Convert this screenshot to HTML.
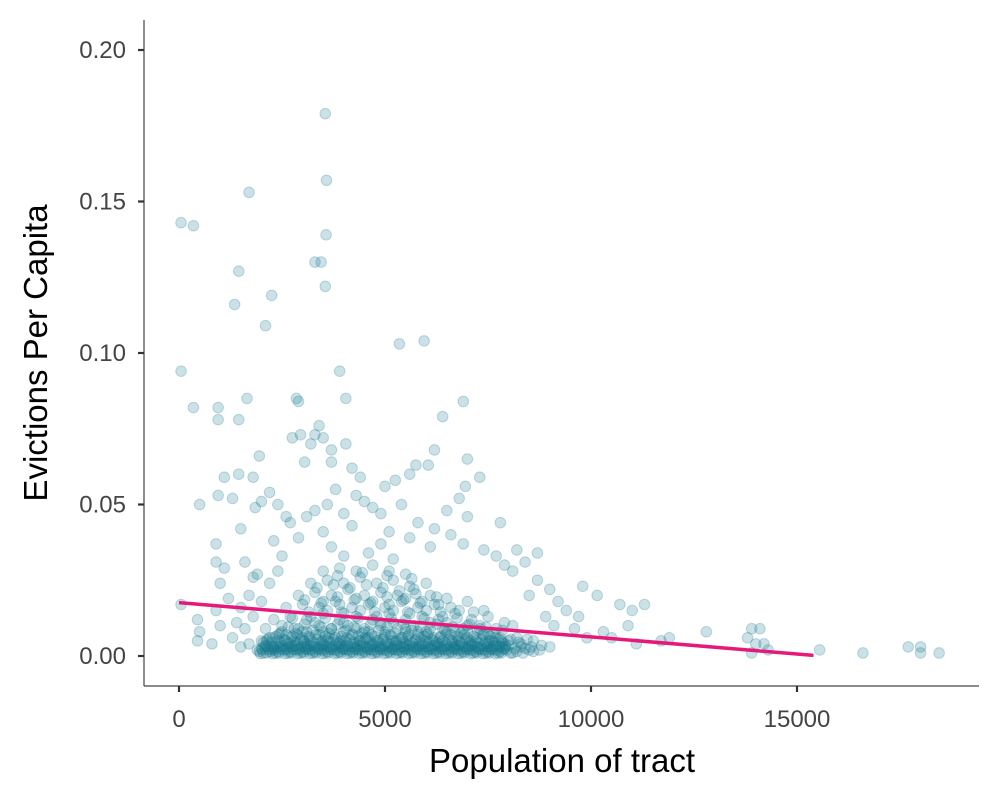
<!DOCTYPE html>
<html><head><meta charset="utf-8"><style>
html,body{margin:0;padding:0;background:#fff;}
svg{display:block;font-family:"Liberation Sans",sans-serif;}
</style></head><body>
<svg id="chart" width="1000" height="800" viewBox="0 0 1000 800">
<g id="points"></g>
<g id="fit"></g>
<g id="axes"></g>
</svg>
<script>
const xTicks = [0, 5000, 10000, 15000];
const xTickLabels = ["0", "5000", "10000", "15000"];
const yTicks = [0, 0.05, 0.10, 0.15, 0.20];
const yTickLabels = ["0.00", "0.05", "0.10", "0.15", "0.20"];
const fitX = [0, 15400];
const fitY = [0.0176, 0.0002];
const outlierPoints = [
[3550,0.179],[3580,0.157],[1700,0.153],[50,0.143],[350,0.142],[3570,0.139],[3300,0.130],[3450,0.130],[1450,0.127],[3550,0.122],[2250,0.119],[1350,0.116],[2100,0.109],[5950,0.104],[5350,0.103],[50,0.094],[3900,0.094],[950,0.082],[350,0.082],[1650,0.085],[4050,0.085],[2850,0.085],[2900,0.084],[6900,0.084],[950,0.078],[1450,0.078],[6400,0.079],[3400,0.076],[3300,0.073],[3200,0.070],[3500,0.072],[2750,0.072],[2950,0.073],[4050,0.070],[1950,0.066],[3700,0.068],[6200,0.068],[3700,0.064],[3050,0.064],[7000,0.065],[5750,0.063],[6050,0.063],[4200,0.062],[1450,0.060],[1800,0.059],[1100,0.059],[7300,0.059],[5600,0.060],[4400,0.059],[500,0.050],[950,0.053],[1300,0.052],[2200,0.054],[1850,0.049],[6950,0.056],[6800,0.052],[3800,0.055],[4300,0.053],[5250,0.058],[5000,0.056],[7000,0.046],[6500,0.048],[7800,0.044],[900,0.037],[1500,0.042],[2600,0.046],[3300,0.048],[4700,0.049],[8200,0.035],[8700,0.034],[8400,0.031],[7700,0.033],[8700,0.025],[9000,0.022],[9800,0.023],[9400,0.015],[9700,0.013],[10150,0.020],[10700,0.017],[11000,0.015],[11300,0.017],[10300,0.008],[11700,0.005],[11900,0.006],[12800,0.008],[13800,0.006],[13900,0.009],[14100,0.009],[14000,0.004],[14200,0.004],[13900,0.001],[14300,0.002],[15550,0.002],[16600,0.001],[17700,0.003],[18000,0.003],[18000,0.001],[18450,0.001],[50,0.017],[450,0.012],[500,0.008],[450,0.005],[800,0.004],[900,0.015],[1000,0.024],[900,0.031],[1200,0.019],[1100,0.029],[1000,0.010],
[2000,0.051],[2400,0.050],[2700,0.044],[3100,0.046],[3600,0.050],[4000,0.047],[4500,0.051],[4900,0.047],[5400,0.050],[5800,0.044],[6200,0.042],[6600,0.040],[2300,0.038],[2900,0.039],[3500,0.041],[4200,0.043],[5100,0.041],[5600,0.039],[6100,0.036],[6900,0.037],[7400,0.035],[7900,0.030],[1600,0.031],[1900,0.027],[2500,0.033],[8100,0.028],[8500,0.020],[9200,0.018],[9600,0.009],[9900,0.006],[10500,0.006],[11100,0.004],[10900,0.010],[9100,0.010],[8900,0.013]
];
const clusterPoints = [
[1900,0.002],[2050,0.001],[2150,0.003],[2250,0.002],[2350,0.001],[2450,0.003],[2550,0.002],[2650,0.001],[2750,0.003],[2850,0.002],[2950,0.001],[3050,0.003],[3150,0.002],[3250,0.001],[3350,0.003],[3450,0.002],[3550,0.001],[3650,0.003],[3750,0.002],[3850,0.001],[3950,0.003],[4050,0.002],[4150,0.001],[4250,0.003],[4350,0.002],[4450,0.001],[4550,0.003],[4650,0.002],[4750,0.001],[4850,0.003],[4950,0.002],[5050,0.001],[5150,0.003],[5250,0.002],[5350,0.001],[5450,0.003],[5550,0.002],[5650,0.001],[5750,0.003],[5850,0.002],[5950,0.001],[6050,0.003],[6150,0.002],[6250,0.001],[6350,0.003],[6450,0.002],[6550,0.001],[6650,0.003],[6750,0.002],[6850,0.001],[6950,0.003],[7050,0.002],[7150,0.001],[7250,0.003],[7350,0.002],[7450,0.001],[7550,0.003],[7650,0.002],[7750,0.001],[7850,0.003],[7950,0.002],[8100,0.001],[8300,0.003],[8500,0.002],[8750,0.002],[9000,0.003],
[2000,0.005],[2200,0.006],[2400,0.005],[2600,0.007],[2800,0.005],[3000,0.006],[3200,0.005],[3400,0.007],[3600,0.005],[3800,0.006],[4000,0.005],[4200,0.007],[4400,0.005],[4600,0.006],[4800,0.005],[5000,0.007],[5200,0.005],[5400,0.006],[5600,0.005],[5800,0.007],[6000,0.005],[6200,0.006],[6400,0.005],[6600,0.007],[6800,0.005],[7000,0.006],[7200,0.005],[7400,0.007],[7600,0.005],[7800,0.006],[8000,0.005],[8200,0.006],[8600,0.005],
[2100,0.009],[2500,0.010],[2900,0.009],[3300,0.011],[3700,0.009],[4100,0.010],[4500,0.009],[4900,0.011],[5300,0.009],[5700,0.010],[6100,0.009],[6500,0.011],[6900,0.009],[7300,0.010],[7700,0.009],[8100,0.010],[2300,0.012],[2700,0.013],[3100,0.012],[3500,0.014],[3900,0.012],[4300,0.013],[4700,0.012],[5100,0.014],[5500,0.012],[5900,0.013],[6300,0.012],[6700,0.014],[7100,0.012],[7500,0.013],[7900,0.011],
[2600,0.016],[3000,0.017],[3400,0.016],[3800,0.018],[4200,0.016],[4600,0.017],[5000,0.016],[5400,0.018],[5800,0.016],[6200,0.017],[6600,0.016],[7000,0.018],[7400,0.015],[2900,0.020],[3300,0.021],[3700,0.020],[4100,0.022],[4500,0.020],[4900,0.021],[5300,0.020],[5700,0.022],[6100,0.020],[6500,0.019],[3200,0.024],[3600,0.025],[4000,0.024],[4400,0.026],[4800,0.024],[5200,0.025],[5600,0.023],[6000,0.024],[3500,0.028],[3900,0.029],[4300,0.028],[4700,0.030],[5100,0.028],[5500,0.027],[4000,0.033],[4600,0.034],[5200,0.032],[3700,0.036],[4900,0.037],
[2300,0.003],[2700,0.004],[3100,0.004],[3500,0.004],[3900,0.004],[4300,0.004],[4700,0.004],[5100,0.004],[5500,0.004],[5900,0.004],[6300,0.004],[6700,0.004],[7100,0.004],[7500,0.004],[7900,0.004],[8300,0.004],[2500,0.008],[3000,0.008],[3500,0.008],[4000,0.008],[4500,0.008],[5000,0.008],[5500,0.008],[6000,0.008],[6500,0.008],[7000,0.008],[7500,0.007],[1500,0.003],[1700,0.004],[1300,0.006],[1600,0.009],[1400,0.011],[1800,0.013],[1500,0.016],[1700,0.020],[2000,0.018],[2200,0.024],[1800,0.026],[2400,0.028]
];
const densePoints = [
[1950,0.0015],[2000,0.0025],[2100,0.0035],[2200,0.0015],[2300,0.0025],[2400,0.0015],[2500,0.0035],[2600,0.0025],[2700,0.0015],[2800,0.0035],[2900,0.0025],[3000,0.0015],[3100,0.0025],[3200,0.0035],[3300,0.0015],[3400,0.0025],[3500,0.0035],[3600,0.0015],[3700,0.0025],[3800,0.0035],[3900,0.0015],[4000,0.0025],[4100,0.0035],[4200,0.0015],[4300,0.0025],[4400,0.0035],[4500,0.0015],[4600,0.0025],[4700,0.0035],[4800,0.0015],[4900,0.0025],[5000,0.0035],[5100,0.0015],[5200,0.0025],[5300,0.0035],[5400,0.0015],[5500,0.0025],[5600,0.0035],[5700,0.0015],[5800,0.0025],[5900,0.0035],[6000,0.0015],[6100,0.0025],[6200,0.0035],[6300,0.0015],[6400,0.0025],[6500,0.0035],[6600,0.0015],[6700,0.0025],[6800,0.0035],[6900,0.0015],[7000,0.0025],[7100,0.0035],[7200,0.0015],[7300,0.0025],[7400,0.0035],[7500,0.0015],[7600,0.0025],[7700,0.0035],[7800,0.0015],[7900,0.0025],[8000,0.0035],[8200,0.0015],[8400,0.0025],[8600,0.0015],[8800,0.0035],
[2050,0.0045],[2150,0.0055],[2250,0.0045],[2350,0.0065],[2450,0.0045],[2550,0.0055],[2650,0.0045],[2750,0.0065],[2850,0.0045],[2950,0.0055],[3050,0.0045],[3150,0.0065],[3250,0.0045],[3350,0.0055],[3450,0.0045],[3550,0.0065],[3650,0.0045],[3750,0.0055],[3850,0.0045],[3950,0.0065],[4050,0.0045],[4150,0.0055],[4250,0.0045],[4350,0.0065],[4450,0.0045],[4550,0.0055],[4650,0.0045],[4750,0.0065],[4850,0.0045],[4950,0.0055],[5050,0.0045],[5150,0.0065],[5250,0.0045],[5350,0.0055],[5450,0.0045],[5550,0.0065],[5650,0.0045],[5750,0.0055],[5850,0.0045],[5950,0.0065],[6050,0.0045],[6150,0.0055],[6250,0.0045],[6350,0.0065],[6450,0.0045],[6550,0.0055],[6650,0.0045],[6750,0.0065],[6850,0.0045],[6950,0.0055],[7050,0.0045],[7150,0.0065],[7250,0.0045],[7350,0.0055],[7450,0.0045],[7550,0.0065],[7650,0.0045],[7750,0.0055],[7850,0.0045],[8050,0.0055],[8250,0.0045],[8450,0.0055],
[2450,0.0075],[2650,0.0095],[2850,0.0075],[3050,0.0105],[3250,0.0085],[3450,0.0095],[3650,0.0075],[3850,0.0105],[4050,0.0085],[4250,0.0095],[4450,0.0075],[4650,0.0105],[4850,0.0085],[5050,0.0095],[5250,0.0075],[5450,0.0105],[5650,0.0085],[5850,0.0095],[6050,0.0075],[6250,0.0105],[6450,0.0085],[6650,0.0095],[6850,0.0075],[7050,0.0105],[7250,0.0085],[7450,0.0095],[7650,0.0075],[7850,0.0085],
[2750,0.0125],[3150,0.0145],[3550,0.0125],[3950,0.0145],[4350,0.0125],[4750,0.0145],[5150,0.0125],[5550,0.0145],[5950,0.0125],[6350,0.0145],[6750,0.0125],[7150,0.0145],[3050,0.0185],[3450,0.0175],[3850,0.0195],[4250,0.0185],[4650,0.0175],[5050,0.0195],[5450,0.0185],[5850,0.0175],[6250,0.0195],[3350,0.0225],[3750,0.0235],[4150,0.0225],[4550,0.0235],[4950,0.0225],[5350,0.0215],[5750,0.0205],[3850,0.0265],[4450,0.0275],[5050,0.0265],[5650,0.0255]
];
const bandPoints = [
[1975,0.0008],[2025,0.0020],[2075,0.0030],[2125,0.0010],[2175,0.0022],[2225,0.0032],[2275,0.0008],[2325,0.0020],[2375,0.0030],[2425,0.0010],[2475,0.0022],[2525,0.0032],[2575,0.0008],[2625,0.0020],[2675,0.0030],[2725,0.0010],[2775,0.0022],[2825,0.0032],[2875,0.0008],[2925,0.0020],[2975,0.0030],[3025,0.0010],[3075,0.0022],[3125,0.0032],[3175,0.0008],[3225,0.0020],[3275,0.0030],[3325,0.0010],[3375,0.0022],[3425,0.0032],[3475,0.0008],[3525,0.0020],[3575,0.0030],[3625,0.0010],[3675,0.0022],[3725,0.0032],[3775,0.0008],[3825,0.0020],[3875,0.0030],[3925,0.0010],[3975,0.0022],[4025,0.0032],[4075,0.0008],[4125,0.0020],[4175,0.0030],[4225,0.0010],[4275,0.0022],[4325,0.0032],[4375,0.0008],[4425,0.0020],[4475,0.0030],[4525,0.0010],[4575,0.0022],[4625,0.0032],[4675,0.0008],[4725,0.0020],[4775,0.0030],[4825,0.0010],[4875,0.0022],[4925,0.0032],[4975,0.0008],[5025,0.0020],[5075,0.0030],[5125,0.0010],[5175,0.0022],[5225,0.0032],[5275,0.0008],[5325,0.0020],[5375,0.0030],[5425,0.0010],[5475,0.0022],[5525,0.0032],[5575,0.0008],[5625,0.0020],[5675,0.0030],[5725,0.0010],[5775,0.0022],[5825,0.0032],[5875,0.0008],[5925,0.0020],[5975,0.0030],[6025,0.0010],[6075,0.0022],[6125,0.0032],[6175,0.0008],[6225,0.0020],[6275,0.0030],[6325,0.0010],[6375,0.0022],[6425,0.0032],[6475,0.0008],[6525,0.0020],[6575,0.0030],[6625,0.0010],[6675,0.0022],[6725,0.0032],[6775,0.0008],[6825,0.0020],[6875,0.0030],[6925,0.0010],[6975,0.0022],[7025,0.0032],[7075,0.0008],[7125,0.0020],[7175,0.0030],[7225,0.0010],[7275,0.0022],[7325,0.0032],[7375,0.0008],[7425,0.0020],[7475,0.0030],[7525,0.0010],[7575,0.0022],[7625,0.0032],[7675,0.0008],[7725,0.0020],[7775,0.0030],[7825,0.0010],[7875,0.0022],[7925,0.0032],[8050,0.0010],[8150,0.0025],[8350,0.0010],[8550,0.0030],
[2125,0.0050],[2275,0.0060],[2425,0.0070],[2575,0.0050],[2725,0.0060],[2875,0.0070],[3025,0.0050],[3175,0.0060],[3325,0.0070],[3475,0.0050],[3625,0.0060],[3775,0.0070],[3925,0.0050],[4075,0.0060],[4225,0.0070],[4375,0.0050],[4525,0.0060],[4675,0.0070],[4825,0.0050],[4975,0.0060],[5125,0.0070],[5275,0.0050],[5425,0.0060],[5575,0.0070],[5725,0.0050],[5875,0.0060],[6025,0.0070],[6175,0.0050],[6325,0.0060],[6475,0.0070],[6625,0.0050],[6775,0.0060],[6925,0.0070],[7075,0.0050],[7225,0.0060],[7375,0.0070],[7525,0.0050],[7675,0.0060],[7825,0.0050],
[2800,0.0090],[3100,0.0080],[3400,0.0100],[3700,0.0090],[4000,0.0110],[4300,0.0090],[4600,0.0080],[4900,0.0100],[5200,0.0110],[5500,0.0090],[5800,0.0080],[6100,0.0110],[6400,0.0090],[6700,0.0080],[7000,0.0100],[7300,0.0090],[3200,0.0130],[3600,0.0150],[4000,0.0140],[4400,0.0150],[4800,0.0130],[5200,0.0150],[5600,0.0140],[6000,0.0150],[6400,0.0130],[6800,0.0150],[3500,0.0180],[3900,0.0170],[4300,0.0190],[4700,0.0180],[5100,0.0170],[5500,0.0190],[5900,0.0180],[6300,0.0170]
];
const NS = "http://www.w3.org/2000/svg";
const L = 144, R = 979, T = 20, B = 686;
function xs(v){ return 179 + v * (618 / 15000); }
function ys(v){ return 656 - v * (606 / 0.20); }
function mk(tag, attrs, parent){ const e = document.createElementNS(NS, tag); for (const k in attrs) e.setAttribute(k, attrs[k]); parent.appendChild(e); return e; }
const pg = document.getElementById('points');
outlierPoints.concat(clusterPoints, densePoints, bandPoints).forEach(function(p){
  const c = mk('circle', {cx: xs(p[0]), cy: ys(p[1]), r: 5.3, fill: 'rgba(20,118,140,0.22)', stroke: 'rgba(20,118,140,0.25)', 'stroke-width': 1}, pg);
  
  
});
const fg = document.getElementById('fit');
const ln = mk('line', {x1: xs(fitX[0]), y1: ys(fitY[0]), x2: xs(fitX[1]), y2: ys(fitY[1]), stroke: '#e6197a', 'stroke-width': 3.5}, fg);


const ax = document.getElementById('axes');
const yl = mk('line', {x1: L, y1: T, x2: L, y2: B, stroke: '#444', 'stroke-width': 1.2}, ax);


const xl = mk('line', {x1: L, y1: B, x2: R, y2: B, stroke: '#444', 'stroke-width': 1.2}, ax);


xTicks.forEach(function(v, i){
  const t = mk('line', {x1: xs(v), y1: B, x2: xs(v), y2: B + 6, stroke: '#333', 'stroke-width': 2.2}, ax);
  
  
  const tx = mk('text', {x: xs(v), y: 727, 'text-anchor': 'middle', 'font-size': 24, fill: '#444'}, ax);
  tx.textContent = xTickLabels[i];
  
  
});
yTicks.forEach(function(v, i){
  const t = mk('line', {x1: L - 6, y1: ys(v), x2: L, y2: ys(v), stroke: '#333', 'stroke-width': 2.2}, ax);
  
  
  const tx = mk('text', {x: 126, y: ys(v) + 8, 'text-anchor': 'end', 'font-size': 24, fill: '#444'}, ax);
  tx.textContent = yTickLabels[i];
  
  
});
const xt = mk('text', {x: 562, y: 772, 'text-anchor': 'middle', 'font-size': 33, fill: '#000'}, ax);
xt.textContent = 'Population of tract';


const yt = mk('text', {x: 0, y: 0, 'text-anchor': 'middle', 'font-size': 33, fill: '#000', transform: 'translate(47,353) rotate(-90)'}, ax);
yt.textContent = 'Evictions Per Capita';


</script>
</body></html>
